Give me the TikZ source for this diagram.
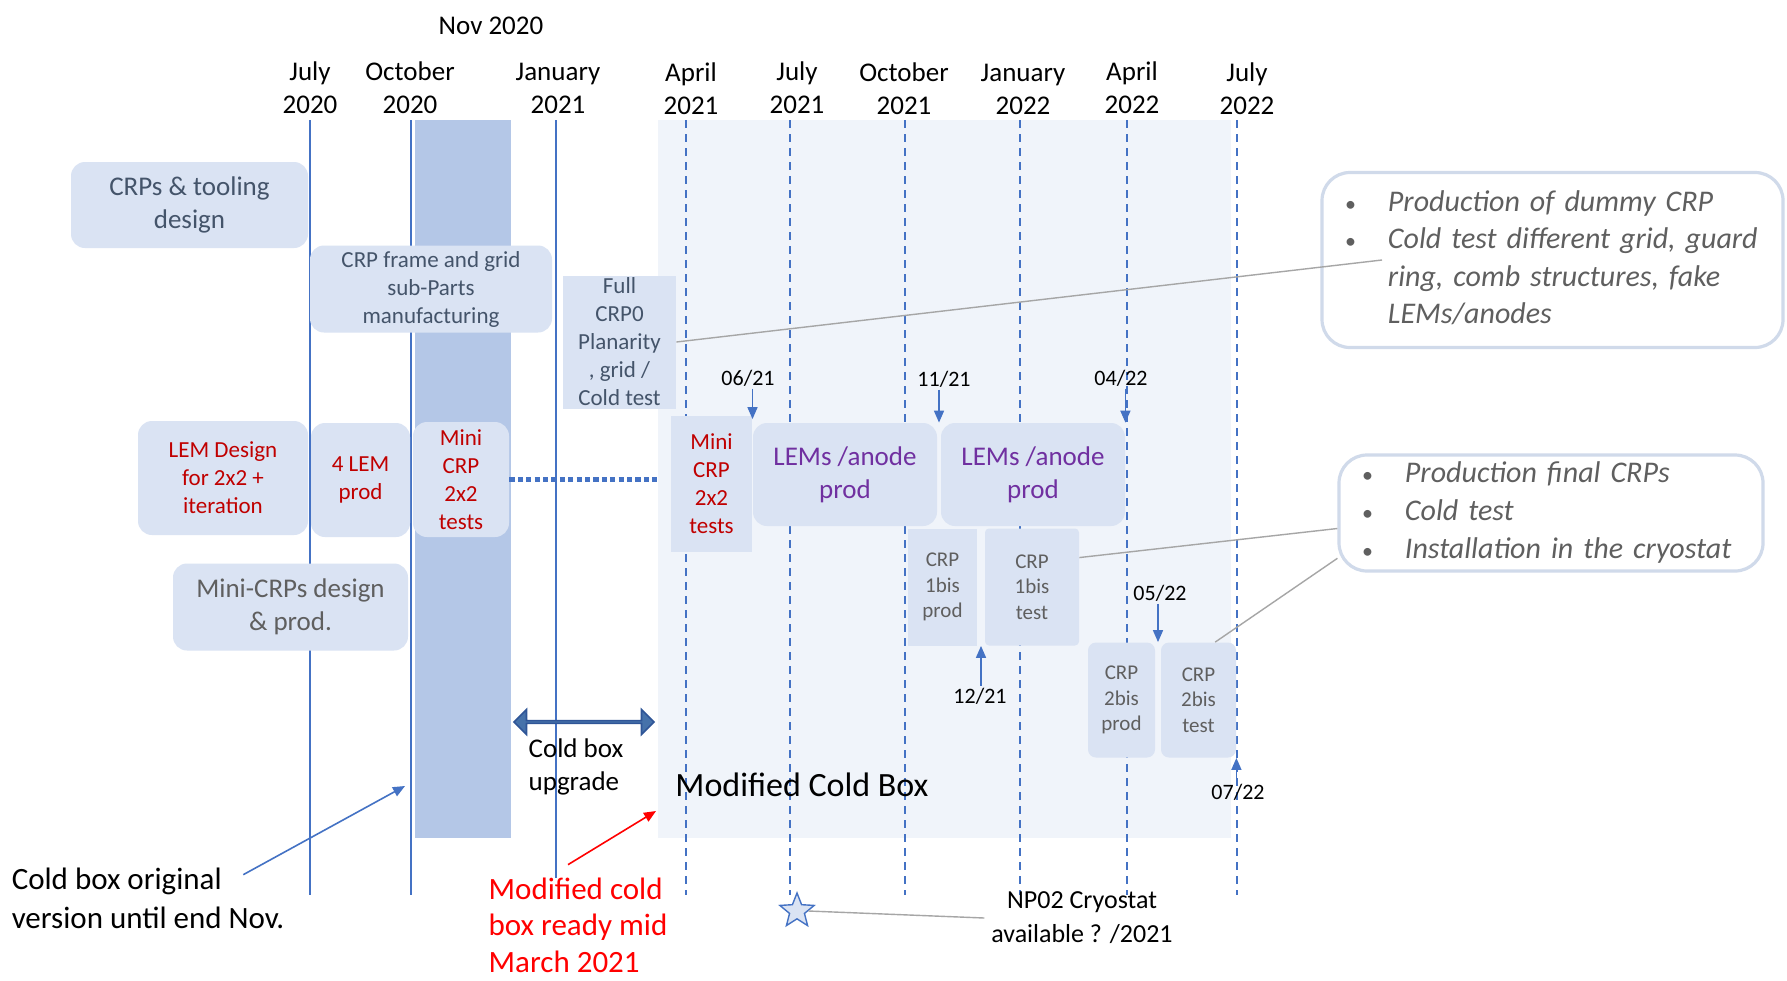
\documentclass[tikz,border=0pt]{standalone}
\usepackage{fontspec}
\setmainfont{Carlito}
\usetikzlibrary{positioning, arrows.meta, shapes.geometric, shapes.arrows, calc}

\definecolor{boxfill}{RGB}{218,227,243}
\definecolor{bandblue}{RGB}{180,199,231}
\definecolor{boxarea}{RGB}{240,244,250}
\definecolor{lineblue}{RGB}{68,114,196}
\definecolor{slate}{RGB}{68,84,106}
\definecolor{midgray}{RGB}{95,95,95}
\definecolor{lemred}{RGB}{192,0,0}
\definecolor{lempurple}{RGB}{112,48,160}
\definecolor{calloutedge}{RGB}{208,218,234}
\definecolor{arrowfill}{RGB}{70,114,170}
\definecolor{arrowedge}{RGB}{47,85,151}

\newcommand{\notedot}{{\upshape\fontsize{11}{11}\selectfont\textbullet}}

\begin{document}
\begin{tikzpicture}[x=0.5pt, y=-0.5pt,
    month/.style={align=center, font=\fontsize{13.5}{16.5}\selectfont},
    datelbl/.style={font=\fontsize{11}{13}\selectfont, inner sep=1pt},
    phase/.style={fill=boxfill, rounded corners=7pt, align=center, inner sep=1pt, text=slate},
    flatphase/.style={phase, rounded corners=0pt},
    smalltxt/.style={font=\fontsize{11.5}{14}\selectfont},
    tinytxt/.style={font=\fontsize{10.5}{12.8}\selectfont, text=midgray},
    bigtxt/.style={font=\fontsize{13.5}{16.5}\selectfont},
    monthline/.style={lineblue, line width=0.6pt},
    futureline/.style={monthline, dash pattern=on 4pt off 3pt},
    datearrow/.style={lineblue, line width=0.8pt, -{Triangle[width=5pt, length=6pt]}},
    leader/.style={black!35, line width=0.7pt},
    callout/.style={draw=calloutedge, line width=1.6pt, rounded corners=14pt, fill=white,
        inner xsep=11.5pt, inner ysep=0pt, align=left,
        text=midgray, font=\fontsize{15}{18.8}\selectfont\itshape}]

    \fill[white] (0,0) rectangle (1787,980);

    % cold box periods
    \node (newbox) [fill=boxarea, inner sep=0, minimum width=286.5pt, minimum height=359pt] at (944.5,479) {};
    \node (band) [fill=bandblue, inner sep=0, minimum width=48pt, minimum height=359pt] at (463,479) {};

    % month grid
    \draw[monthline] (310,120) -- (310,895);
    \draw[monthline] (411,120) -- (411,895);
    \draw[monthline] (556,120) -- (556,878);
    \draw[futureline] (686,120) -- (686,895);
    \draw[futureline] (790,120) -- (790,895);
    \draw[futureline] (905,120) -- (905,895);
    \draw[futureline] (1020,120) -- (1020,895);
    \draw[futureline] (1127,120) -- (1127,895);
    \draw[futureline] (1237,120) -- (1237,895);

    \node[month] (jul20) at (310,88) {July\\2020};
    \node[month] (oct20) at (410,88) {October\\2020};
    \node[month] (jan21) at (558,88) {January\\2021};
    \node[month] (apr21) at (691,89) {April\\2021};
    \node[month] (jul21) at (797,88) {July\\2021};
    \node[month] (oct21) at (904,89) {October\\2021};
    \node[month] (jan22) at (1023,89) {January\\2022};
    \node[month] (apr22) at (1132,88) {April\\2022};
    \node[month] (jul22) at (1247,89) {July\\2022};
    \node[month] (nov20) at (491,26) {Nov 2020};

    % design and production phases
    \node (crptool) [phase, bigtxt, minimum width=118.5pt, minimum height=43pt] at (189.5,205) {CRPs \& tooling\\design};
    \node (crpframe) [phase, smalltxt, minimum width=121pt, minimum height=43.5pt] at (431,289) {CRP frame and grid\\sub-Parts\\manufacturing};
    \node (fullcrp) [flatphase, smalltxt, minimum width=56.5pt, minimum height=66.5pt] at (619.5,342) {Full\\CRP0\\Planarity\\, grid /\\Cold test};
    \node (lemdesign) [phase, smalltxt, text=lemred, minimum width=85pt, minimum height=57pt] at (223,478) {LEM Design\\for 2x2 +\\iteration};
    \node (lemprod) [phase, smalltxt, text=lemred, minimum width=49.5pt, minimum height=57pt] at (360.5,480) {4 LEM\\prod};
    \node (minicrpa) [phase, smalltxt, text=lemred, minimum width=48pt, minimum height=57.5pt] at (461,479.5) {Mini\\CRP\\2x2\\tests};
    \node (minidesign) [phase, bigtxt, text=midgray, minimum width=117.5pt, minimum height=43.5pt] at (290.5,607) {Mini-CRPs design\\\& prod.};

    \node (minicrpb) [flatphase, smalltxt, text=lemred, minimum width=40.5pt, minimum height=68pt] at (711.5,484) {Mini\\CRP\\2x2\\tests};
    \node (lemsa) [phase, bigtxt, text=lempurple, minimum width=92pt, minimum height=51.5pt] at (845,474.5) {LEMs /anode\\prod};
    \node (lemsb) [phase, bigtxt, text=lempurple, minimum width=92pt, minimum height=51.5pt] at (1033,474.5) {LEMs /anode\\prod};
    \node (crp1prod) [flatphase, tinytxt, minimum width=34.5pt, minimum height=58.5pt] at (942.5,587) {CRP\\1bis\\prod};
    \node (crp1test) [phase, tinytxt, rounded corners=2pt, minimum width=47pt, minimum height=58.5pt] at (1032,587) {CRP\\1bis\\test};
    \node (crp2prod) [phase, tinytxt, rounded corners=4pt, minimum width=33.5pt, minimum height=57.5pt] at (1121.5,700) {CRP\\2bis\\prod};
    \node (crp2test) [phase, tinytxt, rounded corners=4pt, minimum width=37.5pt, minimum height=57.5pt] at (1198.5,700) {CRP\\2bis\\test};

    % link between the two mini-CRP test campaigns
    \draw[lineblue, line width=2.6pt, dash pattern=on 2.6pt off 1.6pt] (minicrpa.east) -- (minicrpa.east -| newbox.west);

    % milestones
    \coordinate (t0621) at ($(minicrpb.north east)!0.5!(lemsa.north west)$);
    \coordinate (t1121) at ($(lemsa.north east)!0.5!(lemsb.north west)$);
    \coordinate (t0422) at (lemsb.north east);
    \coordinate (t0522) at ($(crp2prod.north east)!0.5!(crp2test.north west)$);
    \coordinate (t1221) at ($(crp1prod.south east)!0.5!(crp1test.south west)$);
    \coordinate (t0722) at (crp2test.south east);

    \node[datelbl] (d0621) at (748,378) {06/21};
    \node[datelbl] (d1121) at (944,379) {11/21};
    \node[datelbl] (d0422) at (1121,378) {04/22};
    \node[datelbl] (d0522) at (1160,593) {05/22};
    \node[datelbl] (d1221) at (980,696) {12/21};
    \node[datelbl] (d0722) at (1238,792) {07/22};

    \draw[datearrow] (d0621.south -| t0621) -- (t0621);
    \draw[datearrow] (d1121.south -| t1121) -- (t1121);
    \draw[datearrow] (d0422.south -| t0422) -- (t0422);
    \draw[datearrow] (d0522.south -| t0522) -- (t0522);
    \draw[datearrow] (d1221.north -| t1221) -- (t1221);
    \draw[datearrow] (d0722.north -| t0722) -- (t0722);

    % cold box
    \node (upgrade) [double arrow, fill=arrowfill, draw=arrowedge, line width=0.8pt, inner sep=0,
        minimum height=70pt, minimum width=12.5pt, double arrow head extend=3.2pt] at (584,722) {};
    \node (upgradelbl) [bigtxt, align=left] at (576,767) {Cold box\\upgrade};
    \node (modlbl) [font=\fontsize{17}{20}\selectfont] at (802,785) {Modified Cold Box};

    \node (coldorig) [font=\fontsize{15.5}{19.4}\selectfont, align=left] at (148,898) {Cold box original\\version until end Nov.};
    \coordinate (origtip) at (405,786);
    \draw[lineblue, line width=0.8pt, -{Triangle[width=5pt, length=6pt]}] ([shift={(-48,14)}]coldorig.north east) -- (origtip);

    \node (modready) [font=\fontsize{15.5}{18.2}\selectfont, text=red, align=left] at (578,925) {Modified cold\\box ready mid\\March 2021};
    \coordinate (readytip) at (656,811);
    \draw[red, line width=0.8pt, -{Triangle[width=5pt, length=6pt]}] ([shift={(-10,-6)}]modready.north) -- (readytip);

    % cryostat
    \node (np02star) [star, star points=5, star point ratio=2.3, minimum size=18pt, inner sep=0,
        draw=lineblue, fill=boxfill, line width=0.7pt] at (797,911) {};
    \node (np02) [font=\fontsize{13}{17}\selectfont, align=center] at (1082,918) {NP02 Cryostat\\available ? /2021};
    \draw[leader] (np02star.east) -- (np02.west);

    % notes
    \node (dummynote) [callout, text width=207.5pt, minimum height=87.5pt] at (1552.5,260) {%
        \begin{tabular}{@{}l@{\hspace{16pt}}l@{}}
        \notedot & Production of dummy CRP\\
        \notedot & Cold test different grid, guard\\
         & ring, comb structures, fake\\
         & LEMs/anodes
        \end{tabular}};
    \node (finalnote) [callout, text width=189pt, minimum height=58pt] at (1551,513) {%
        \begin{tabular}{@{}l@{\hspace{16pt}}l@{}}
        \notedot & Production final CRPs\\
        \notedot & Cold test\\
        \notedot & Installation in the cryostat
        \end{tabular}};

    \coordinate (dummyend) at (1382,260);
    \draw[leader] (fullcrp.east) -- (dummyend);
    \draw[leader] ($(crp1test.north east)!0.25!(crp1test.south east)$) -- ($(finalnote.north west)!0.63!(finalnote.south west)$);
    \draw[leader] ($(crp2test.north west)!0.72!(crp2test.north east)$) -- ($(finalnote.north west)!0.88!(finalnote.south west)$);
\end{tikzpicture}
\end{document}
